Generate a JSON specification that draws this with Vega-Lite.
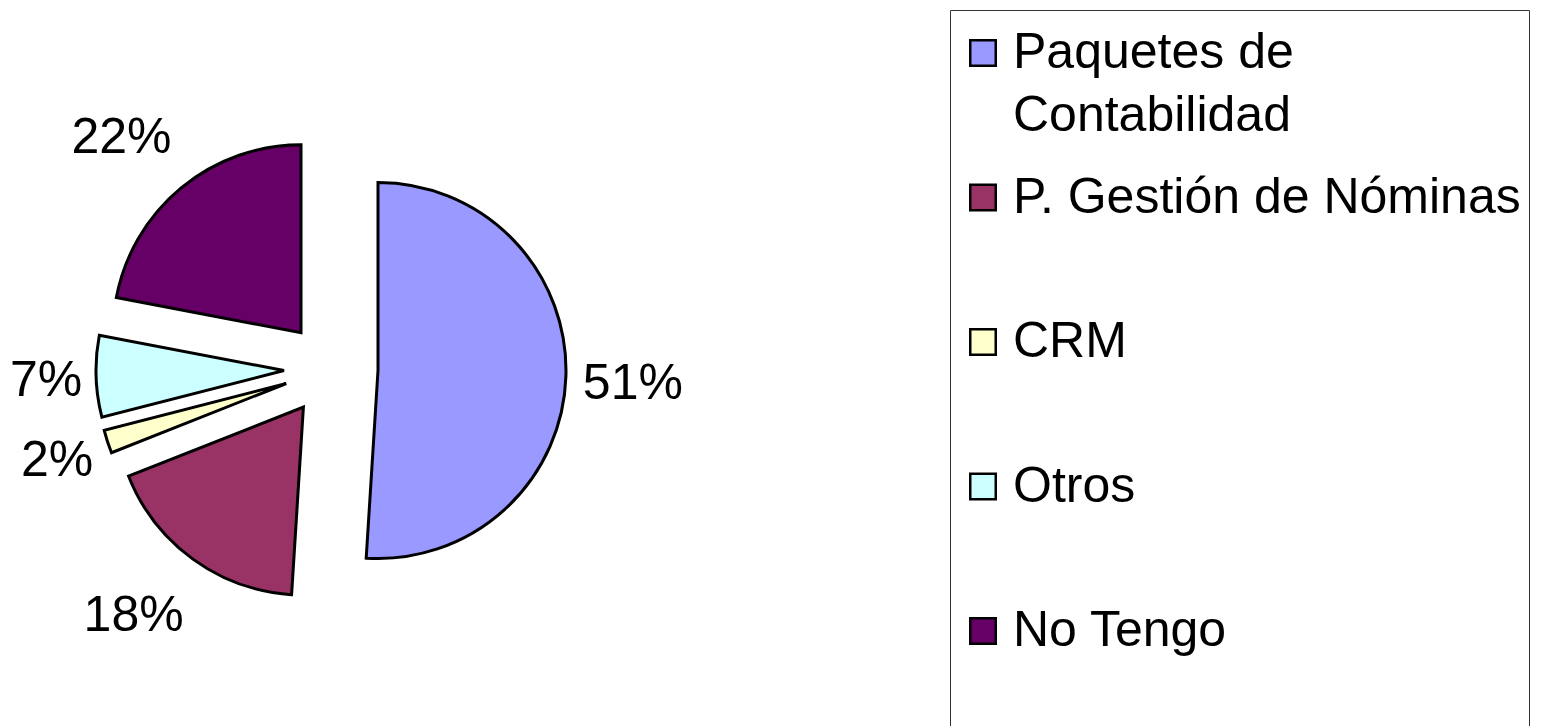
{
  "$schema": "https://vega.github.io/schema/vega-lite/v6.json",
  "width": 662,
  "height": 714,
  "autosize": "none",
  "padding": {"left": 0, "top": 12, "right": 881, "bottom": 0},
  "background": "white",
  "config": {
    "view": {"stroke": null},
    "font": "Liberation Sans",
    "style": {"guide-label": {"lineHeight": 63}},
    "legend": {
      "orient": "none",
      "legendX": 950,
      "legendY": -2,
      "strokeColor": "#333333",
      "padding": 8,
      "symbolType": "square",
      "symbolSize": 650,
      "symbolStrokeColor": "black",
      "symbolStrokeWidth": 2.5,
      "labelFontSize": 50,
      "labelFont": "Liberation Sans",
      "labelColor": "black",
      "labelLimit": 0,
      "labelOffset": 5,
      "rowPadding": 31.5,
      "titleFontSize": 1,
      "titlePadding": 9
    }
  },
  "data": {
    "values": [
      {"categoria": "Paquetes de Contabilidad", "valor": 0.51},
      {"categoria": "P. Gestión de Nóminas", "valor": 0.18},
      {"categoria": "CRM", "valor": 0.02},
      {"categoria": "Otros", "valor": 0.07},
      {"categoria": "No Tengo", "valor": 0.22}
    ]
  },
  "transform": [
    {"stack": "valor", "groupby": [], "as": ["v0", "v1"]},
    {"calculate": "(datum.v0 + datum.v1) / 2", "as": "mid"}
  ],
  "layer": [
    {
      "transform": [{"filter": "datum.categoria == 'Paquetes de Contabilidad'"}],
      "layer": [
        {
          "mark": {"type": "arc", "outerRadius": 188, "stroke": "black", "strokeWidth": 3, "xOffset": 47, "yOffset": 1.5},
          "encoding": {
            "theta": {"field": "v0", "type": "quantitative", "scale": {"domain": [0, 1], "range": [0, 6.283185307]}},
            "theta2": {"field": "v1"},
            "color": {"field": "categoria", "type": "nominal",
              "scale": {"domain": ["Paquetes de Contabilidad", "P. Gestión de Nóminas", "CRM", "Otros", "No Tengo"], "range": ["#9999FF", "#993366", "#FFFFCC", "#CCFFFF", "#660066"]},
              "legend": {"title": " ", "labelExpr": "datum.label == 'Paquetes de Contabilidad' ? ['Paquetes de', 'Contabilidad'] : [datum.label, ' ']"}}
          }
        },
        {
          "mark": {"type": "text", "radius": 255, "xOffset": 47, "yOffset": 6.5, "fontSize": 50, "font": "Liberation Sans", "color": "black"},
          "encoding": {
            "theta": {"field": "mid", "type": "quantitative", "scale": {"domain": [0, 1], "range": [0, 6.283185307]}},
            "text": {"field": "valor", "type": "quantitative", "format": ".0%"}
          }
        }
      ]
    },
    {
      "transform": [{"filter": "datum.categoria == 'P. Gestión de Nóminas'"}],
      "layer": [
        {
          "mark": {"type": "arc", "outerRadius": 188, "stroke": "black", "strokeWidth": 3, "xOffset": -27.6, "yOffset": 38},
          "encoding": {
            "theta": {"field": "v0", "type": "quantitative", "scale": {"domain": [0, 1], "range": [0, 6.283185307]}},
            "theta2": {"field": "v1"},
            "color": {"field": "categoria", "type": "nominal"}
          }
        },
        {
          "mark": {"type": "text", "radius": 265, "xOffset": -41.6, "yOffset": 33, "fontSize": 50, "font": "Liberation Sans", "color": "black"},
          "encoding": {
            "theta": {"field": "mid", "type": "quantitative", "scale": {"domain": [0, 1], "range": [0, 6.283185307]}},
            "text": {"field": "valor", "type": "quantitative", "format": ".0%"}
          }
        }
      ]
    },
    {
      "transform": [{"filter": "datum.categoria == 'CRM'"}],
      "layer": [
        {
          "mark": {"type": "arc", "outerRadius": 188, "stroke": "black", "strokeWidth": 3, "xOffset": -44.7, "yOffset": 14.5},
          "encoding": {
            "theta": {"field": "v0", "type": "quantitative", "scale": {"domain": [0, 1], "range": [0, 6.283185307]}},
            "theta2": {"field": "v1"},
            "color": {"field": "categoria", "type": "nominal"}
          }
        },
        {
          "mark": {"type": "text", "radius": 242, "xOffset": -43.7, "yOffset": 17.5, "fontSize": 50, "font": "Liberation Sans", "color": "black"},
          "encoding": {
            "theta": {"field": "mid", "type": "quantitative", "scale": {"domain": [0, 1], "range": [0, 6.283185307]}},
            "text": {"field": "valor", "type": "quantitative", "format": ".0%"}
          }
        }
      ]
    },
    {
      "transform": [{"filter": "datum.categoria == 'Otros'"}],
      "layer": [
        {
          "mark": {"type": "arc", "outerRadius": 188, "stroke": "black", "strokeWidth": 3, "xOffset": -47, "yOffset": 1.5},
          "encoding": {
            "theta": {"field": "v0", "type": "quantitative", "scale": {"domain": [0, 1], "range": [0, 6.283185307]}},
            "theta2": {"field": "v1"},
            "color": {"field": "categoria", "type": "nominal"}
          }
        },
        {
          "mark": {"type": "text", "radius": 239, "xOffset": -46, "yOffset": 4.5, "fontSize": 50, "font": "Liberation Sans", "color": "black"},
          "encoding": {
            "theta": {"field": "mid", "type": "quantitative", "scale": {"domain": [0, 1], "range": [0, 6.283185307]}},
            "text": {"field": "valor", "type": "quantitative", "format": ".0%"}
          }
        }
      ]
    },
    {
      "transform": [{"filter": "datum.categoria == 'No Tengo'"}],
      "layer": [
        {
          "mark": {"type": "arc", "outerRadius": 188, "stroke": "black", "strokeWidth": 3, "xOffset": -30, "yOffset": -36.2},
          "encoding": {
            "theta": {"field": "v0", "type": "quantitative", "scale": {"domain": [0, 1], "range": [0, 6.283185307]}},
            "theta2": {"field": "v1"},
            "color": {"field": "categoria", "type": "nominal"}
          }
        },
        {
          "mark": {"type": "text", "radius": 266, "xOffset": -40, "yOffset": -26.2, "fontSize": 50, "font": "Liberation Sans", "color": "black"},
          "encoding": {
            "theta": {"field": "mid", "type": "quantitative", "scale": {"domain": [0, 1], "range": [0, 6.283185307]}},
            "text": {"field": "valor", "type": "quantitative", "format": ".0%"}
          }
        }
      ]
    }
  ]
}
